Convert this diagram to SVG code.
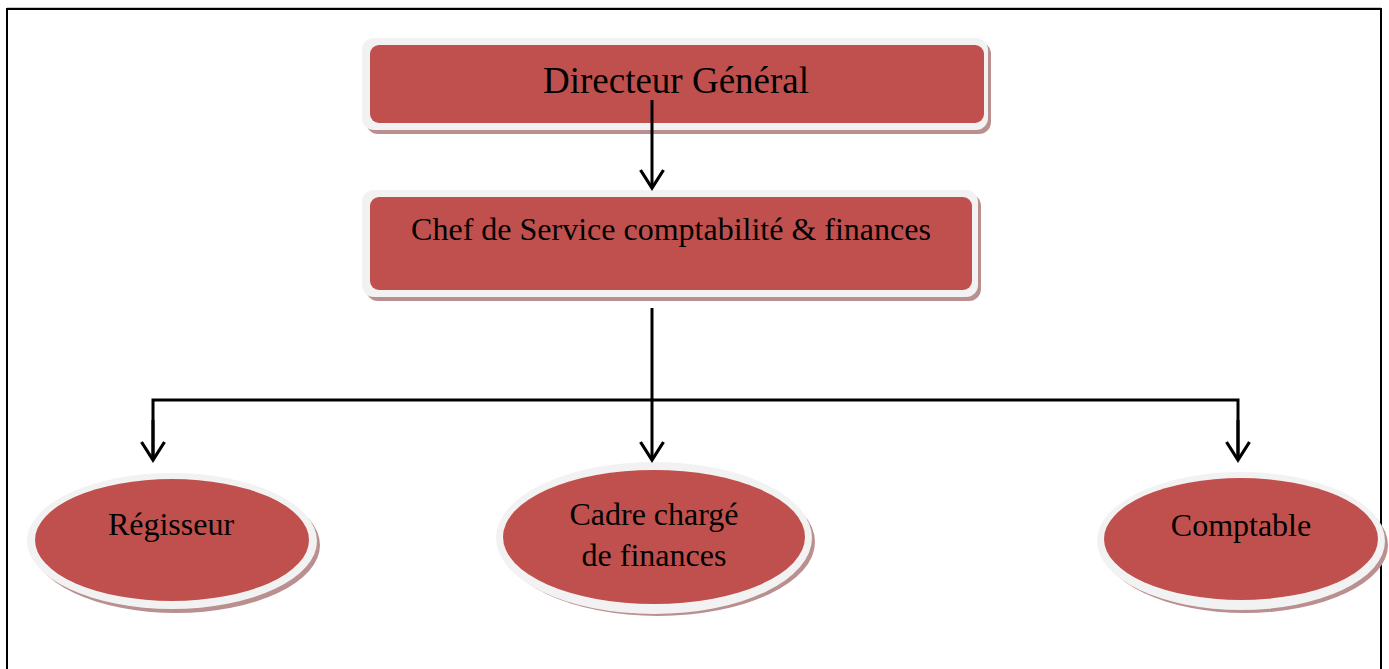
<svg xmlns="http://www.w3.org/2000/svg" width="1389" height="669" viewBox="0 0 1389 669">
<style>
.shadow{fill:#b98f8f}
.frame{fill:#f2f2f2}
.body{fill:#c0504d}
.lbl{font-family:"Liberation Serif","Times New Roman",serif;fill:#000;text-anchor:middle}
.conn{stroke:#000;stroke-width:3;fill:none}
</style>
<defs>
<marker id="arr" markerWidth="28" markerHeight="28" refX="24" refY="14" orient="auto" markerUnits="userSpaceOnUse" viewBox="0 0 28 28">
<path d="M6 2.5 L24 14 L6 25.5" fill="none" stroke="#000" stroke-width="3.2"/>
</marker>
</defs>
<rect x="0" y="0" width="1389" height="669" fill="#fff"/>
<rect x="7" y="9" width="1374" height="700" fill="none" stroke="#000" stroke-width="2"/>
<line x1="7" y1="7.5" x2="1381" y2="7.5" stroke="#c8c8c8" stroke-width="1"/>

<g id="directeur">
<rect class="shadow" x="366" y="42" width="625" height="92" rx="12"/>
<rect class="frame" x="362" y="38" width="626" height="92" rx="12"/>
<rect class="body" x="370" y="45" width="614" height="78" rx="9"/>
<text class="lbl" x="676" y="93" font-size="37">Directeur Général</text>
</g>

<g id="chef">
<rect class="shadow" x="366" y="194" width="615" height="107" rx="12"/>
<rect class="frame" x="362" y="190" width="616" height="107" rx="12"/>
<rect class="body" x="370" y="197" width="602" height="93" rx="9"/>
<text class="lbl" x="671" y="240" font-size="32">Chef de Service comptabilité &amp; finances</text>
</g>

<g id="regisseur">
<ellipse class="shadow" cx="176" cy="545" rx="144" ry="68"/>
<ellipse class="frame" cx="172" cy="541" rx="145" ry="68"/>
<ellipse class="body" cx="172" cy="540" rx="137" ry="61"/>
<text class="lbl" x="171" y="535" font-size="32">Régisseur</text>
</g>

<g id="cadre">
<ellipse class="shadow" cx="658" cy="542" rx="157" ry="74"/>
<ellipse class="frame" cx="654" cy="538" rx="158" ry="76"/>
<ellipse class="body" cx="654" cy="537" rx="151" ry="67"/>
<text class="lbl" x="654" y="525" font-size="32">Cadre chargé</text>
<text class="lbl" x="654" y="566" font-size="32">de finances</text>
</g>

<g id="comptable">
<ellipse class="shadow" cx="1245" cy="545" rx="143" ry="68"/>
<ellipse class="frame" cx="1241" cy="541" rx="144" ry="69"/>
<ellipse class="body" cx="1241" cy="539" rx="137" ry="61"/>
<text class="lbl" x="1241" y="536" font-size="32">Comptable</text>
</g>

<g id="connectors">
<line class="conn" x1="652" y1="100" x2="652" y2="188" marker-end="url(#arr)"/>
<line class="conn" x1="652" y1="308" x2="652" y2="460" marker-end="url(#arr)"/>
<polyline class="conn" points="153,460 153,400 1238,400 1238,460"/>
<line class="conn" x1="153" y1="420" x2="153" y2="460" marker-end="url(#arr)"/>
<line class="conn" x1="1238" y1="420" x2="1238" y2="460" marker-end="url(#arr)"/>
</g>
</svg>
